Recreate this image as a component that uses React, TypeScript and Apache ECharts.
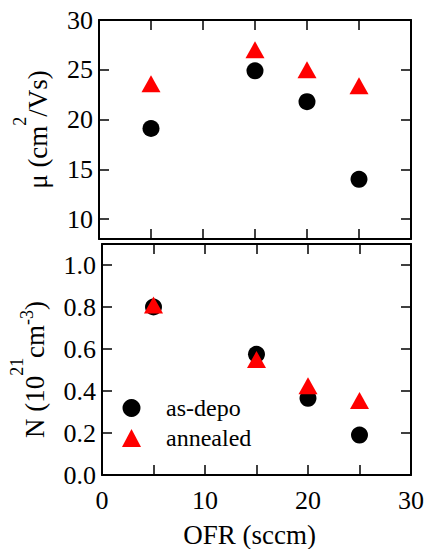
import React, { useEffect, useRef } from "react";
import * as echarts from "echarts";

const ofr = [5, 15, 20, 25];
const mobilityAsDepo = [19.1, 24.9, 21.8, 14.0];
const mobilityAnnealed = [23.6, 27.0, 25.0, 23.4];
const densityAsDepo = [0.8, 0.575, 0.365, 0.19];
const densityAnnealed = [0.81, 0.55, 0.425, 0.355];
const mobilityTicks = [10, 15, 20, 25, 30];
const densityTicks = [0, 0.2, 0.4, 0.6, 0.8, 1.0];
const seriesNames = ["as-depo", "annealed"];

const FONT = "Liberation Serif";
const LINE = { lineStyle: { color: "#000", width: 2 } };
const TICK = { show: true, inside: true, length: 10, lineStyle: { color: "#000", width: 1.5 } };

export default function App() {
  const ref = useRef<HTMLDivElement>(null);
  useEffect(() => {
    if (!ref.current) return;
    const chart = echarts.init(ref.current, null, { renderer: "svg" });
    const xBase = (gridIndex: number, position: string, labels: boolean) => ({
      type: "value",
      gridIndex,
      position,
      min: 0,
      max: 30,
      interval: 5,
      axisLine: { show: true, onZero: false, ...LINE },
      axisTick: TICK,
      splitLine: { show: false },
      axisLabel: labels
        ? {
            show: true,
            margin: 12,
            fontSize: 26,
            fontFamily: FONT,
            color: "#000",
            formatter: (v: number) => (v % 10 === 0 ? String(v) : ""),
          }
        : { show: false },
    });
    const yBase = (
      gridIndex: number,
      position: string,
      min: number,
      max: number,
      ticks: number[],
      labels: boolean,
      fmt: (v: number) => string
    ) => ({
      type: "value",
      gridIndex,
      position,
      min,
      max,
      axisLine: { show: true, onZero: false, ...LINE },
      axisTick: { ...TICK, customValues: ticks },
      splitLine: { show: false },
      axisLabel: labels
        ? {
            show: true,
            margin: 6,
            fontSize: 26,
            fontFamily: FONT,
            color: "#000",
            customValues: ticks,
            formatter: fmt,
          }
        : { show: false, customValues: ticks },
    });
    const nameRich = {
      b: { fontSize: 27, fontFamily: FONT, color: "#000", verticalAlign: "bottom" },
      s: { fontSize: 18, fontFamily: FONT, color: "#000", verticalAlign: "bottom", padding: [0, 0, 22, 0] },
      t: { fontSize: 18, fontFamily: FONT, color: "#000", verticalAlign: "bottom", padding: [0, 0, 12, 0] },
    };
    const option: any = {
      animation: false,
      backgroundColor: "#fff",
      textStyle: { fontFamily: FONT },
      grid: [
        { left: 99, top: 20, width: 312, height: 219 },
        { left: 99, top: 244, width: 312, height: 231 },
      ],
      legend: {
        data: seriesNames,
        orient: "vertical",
        left: 122,
        top: 396,
        padding: 0,
        itemGap: 6,
        itemWidth: 19,
        itemHeight: 18,
        textStyle: { fontSize: 24, fontFamily: FONT, color: "#000", lineHeight: 24, padding: [0, 0, 0, 20] },
      },
      xAxis: [
        xBase(0, "bottom", false),
        xBase(0, "top", false),
        {
          ...xBase(1, "bottom", true),
          name: "OFR (sccm)",
          nameLocation: "middle",
          nameGap: 46,
          nameTextStyle: { fontSize: 27, fontFamily: FONT, color: "#000", padding: [0, 14, 0, 0] },
        },
        xBase(1, "top", false),
      ],
      yAxis: [
        {
          ...yBase(0, "left", 8, 30, mobilityTicks, true, (v: number) => String(v)),
          name: "{b|μ (cm}{s|2}{b|/Vs)}",
          nameLocation: "middle",
          nameRotate: 90,
          nameGap: 48,
          nameTextStyle: { rich: nameRich },
        },
        yBase(0, "right", 8, 30, mobilityTicks, false, (v: number) => String(v)),
        {
          ...yBase(1, "left", 0, 1.1, densityTicks, true, (v: number) => v.toFixed(1)),
          name: "{b|N (10}{s|21}{b|cm}{t|-3}{b|)}",
          nameLocation: "middle",
          nameRotate: 90,
          nameGap: 54,
          nameTextStyle: { rich: nameRich, padding: [0, 20, 0, 0] },
        },
        yBase(1, "right", 0, 1.1, densityTicks, false, (v: number) => v.toFixed(1)),
      ],
      series: [
        {
          name: seriesNames[0],
          type: "scatter",
          xAxisIndex: 0,
          yAxisIndex: 0,
          symbol: "circle",
          symbolSize: 17,
          itemStyle: { color: "#000", opacity: 1 },
          data: ofr.map((x, i) => [x, mobilityAsDepo[i]]),
        },
        {
          name: seriesNames[1],
          type: "scatter",
          xAxisIndex: 0,
          yAxisIndex: 0,
          symbol: "triangle",
          symbolSize: [19, 17],
          itemStyle: { color: "#ff0000", opacity: 1 },
          data: ofr.map((x, i) => [x, mobilityAnnealed[i]]),
        },
        {
          name: seriesNames[0],
          type: "scatter",
          xAxisIndex: 2,
          yAxisIndex: 2,
          symbol: "circle",
          symbolSize: 17,
          itemStyle: { color: "#000", opacity: 1 },
          data: ofr.map((x, i) => [x, densityAsDepo[i]]),
        },
        {
          name: seriesNames[1],
          type: "scatter",
          xAxisIndex: 2,
          yAxisIndex: 2,
          symbol: "triangle",
          symbolSize: [19, 17],
          itemStyle: { color: "#ff0000", opacity: 1 },
          data: ofr.map((x, i) => [x, densityAnnealed[i]]),
        },
      ],
    };
    chart.setOption(option);
    return () => chart.dispose();
  }, []);
  return <div ref={ref} style={{ width: 427, height: 549, position: "absolute", left: 0, top: 0 }} />;
}
